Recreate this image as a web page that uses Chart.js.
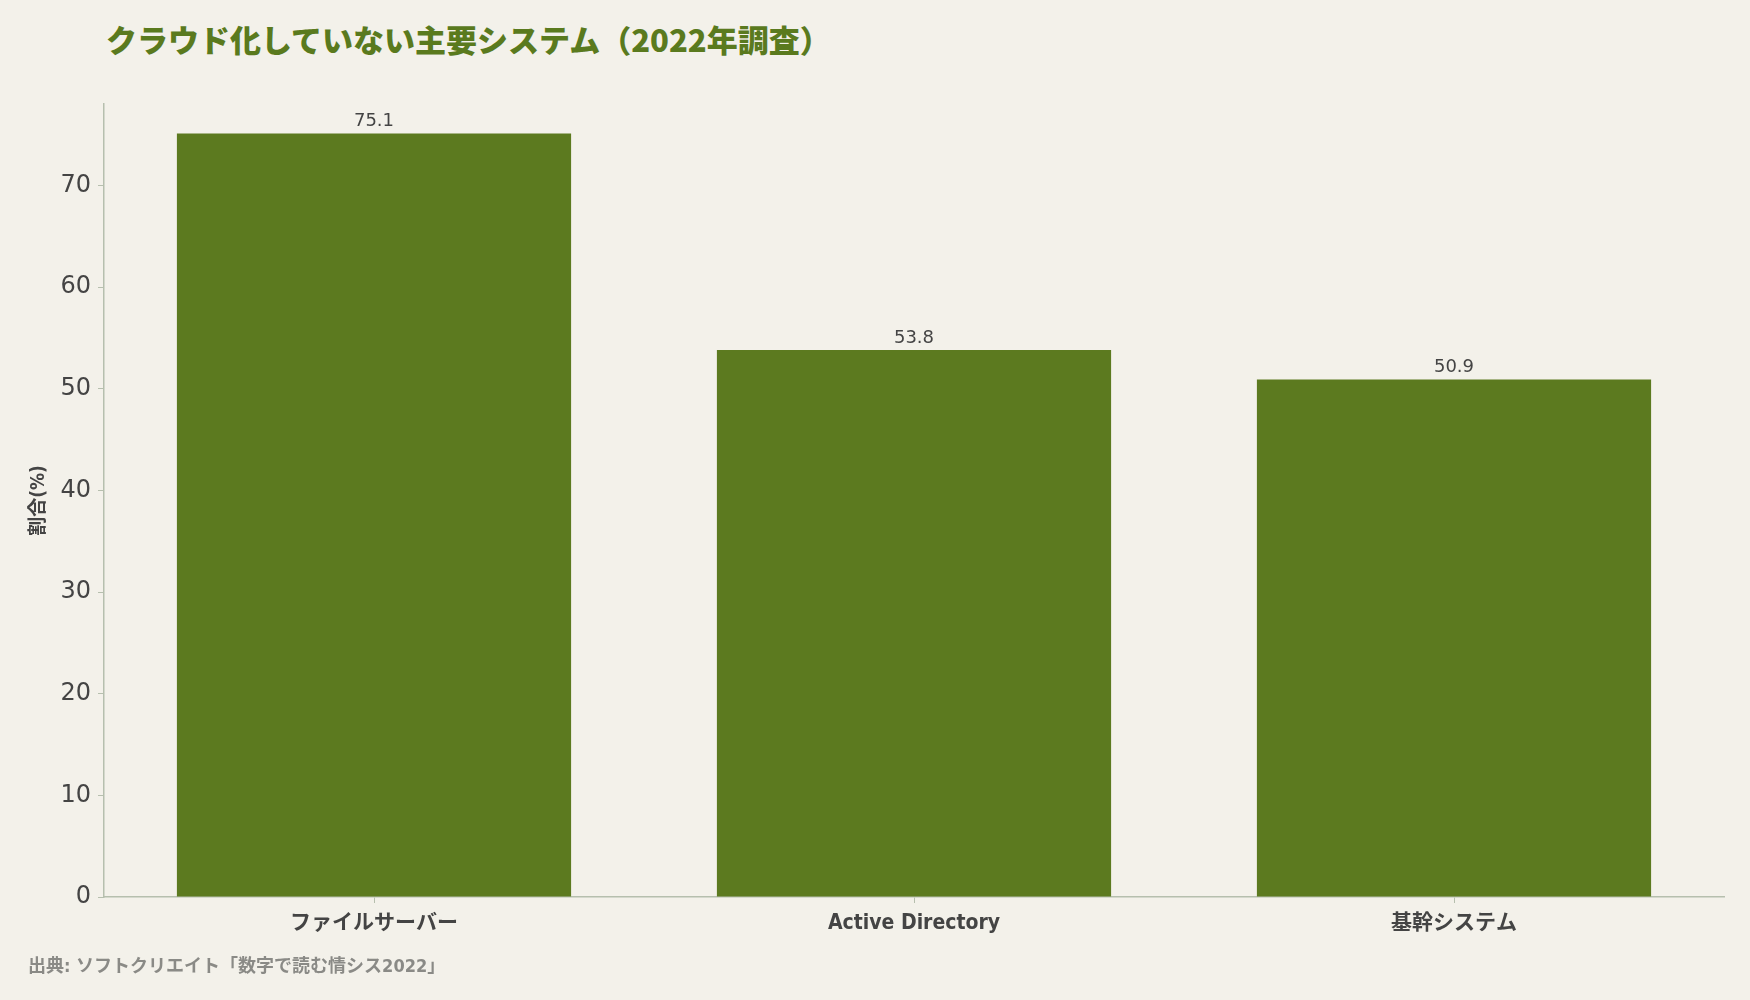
<!DOCTYPE html>
<html lang="ja">
<head>
  <meta charset="UTF-8">
  <title>クラウド化していない主要システム</title>
  <style>
    body {
      margin: 0;
      padding: 0;
      background-color: #f3f1ea;
      font-family: 'DejaVu Sans', 'Noto Sans CJK JP', sans-serif;
      width: 1750px;
      height: 1000px;
      position: relative;
      overflow: hidden;
    }
    .title {
      position: absolute;
      left: 106px;
      top: 19px;
      font-family: 'Noto Sans CJK JP', sans-serif;
      font-size: 31px;
      font-weight: 900;
      color: #5a7a1e;
      line-height: 1.3;
    }
    .source {
      position: absolute;
      left: 28px;
      top: 951px;
      font-family: 'DejaVu Sans Condensed', 'Noto Sans CJK JP', sans-serif;
      font-size: 18px;
      font-weight: bold;
      color: #8a8a86;
    }
    .chart-box {
      position: absolute;
      left: 0;
      top: 0;
      width: 1750px;
      height: 1000px;
    }
  </style>
</head>
<body>
  <div class="title">クラウド化していない主要システム（2022年調査）</div>
  <div class="chart-box"><canvas id="barChart"></canvas></div>
  <div class="source">出典: ソフトクリエイト「数字で読む情シス2022」</div>

  <script src="https://cdn.jsdelivr.net/npm/chart.js"></script>
  <script>
    // data
    const systems = ['ファイルサーバー', 'Active Directory', '基幹システム'];
    const shares = [75.1, 53.8, 50.9];
    const yTicks = [0, 10, 20, 30, 40, 50, 60, 70];

    const axisColor = '#b6bfae';
    const textColor = '#444444';
    const fontFamily = "'DejaVu Sans', 'Noto Sans CJK JP', sans-serif";
    const condFamily = "'DejaVu Sans Condensed', 'Noto Sans CJK JP', sans-serif";

    // value labels above each bar
    const valueLabels = {
      id: 'valueLabels',
      afterDatasetsDraw(chart) {
        const ctx = chart.ctx;
        const meta = chart.getDatasetMeta(0);
        ctx.save();
        ctx.fillStyle = textColor;
        ctx.font = '18px ' + fontFamily;
        ctx.textAlign = 'center';
        ctx.textBaseline = 'bottom';
        meta.data.forEach((bar, i) => {
          ctx.fillText(shares[i].toFixed(1), bar.x, bar.y - 3);
        });
        ctx.restore();
      }
    };

    new Chart(document.getElementById('barChart'), {
      type: 'bar',
      data: {
        labels: systems,
        datasets: [{
          data: shares,
          backgroundColor: '#5c7a1f',
          borderWidth: 0,
          categoryPercentage: 1,
          barPercentage: 0.73
        }]
      },
      options: {
        responsive: true,
        maintainAspectRatio: false,
        animation: false,
        layout: {
          padding: { top: 104, left: 22, right: 26, bottom: 0 }
        },
        plugins: {
          legend: { display: false },
          tooltip: { enabled: false }
        },
        scales: {
          x: {
            grid: {
              display: true,
              drawOnChartArea: false,
              drawTicks: true,
              tickLength: 6,
              offset: false,
              color: axisColor
            },
            border: { display: true, color: axisColor, width: 1.5 },
            ticks: {
              color: textColor,
              padding: 8,
              font: { family: condFamily, size: 21, weight: 'bold' }
            },
            afterFit(scale) { scale.height = 103; }
          },
          y: {
            min: 0,
            max: 78,
            grid: {
              display: true,
              drawOnChartArea: false,
              drawTicks: true,
              tickLength: 6,
              color: axisColor
            },
            border: { display: true, color: axisColor, width: 1.5 },
            afterBuildTicks(scale) {
              scale.ticks = yTicks.map(v => ({ value: v }));
            },
            ticks: {
              color: textColor,
              padding: 7,
              font: { family: fontFamily, size: 24 }
            },
            title: {
              display: true,
              text: '割合(%)',
              color: textColor,
              padding: { top: 6, bottom: 6 },
              font: { family: condFamily, size: 19, weight: 'bold' }
            },
            afterFit(scale) { scale.width = 82; }
          }
        }
      },
      plugins: [valueLabels]
    });
  </script>
</body>
</html>
